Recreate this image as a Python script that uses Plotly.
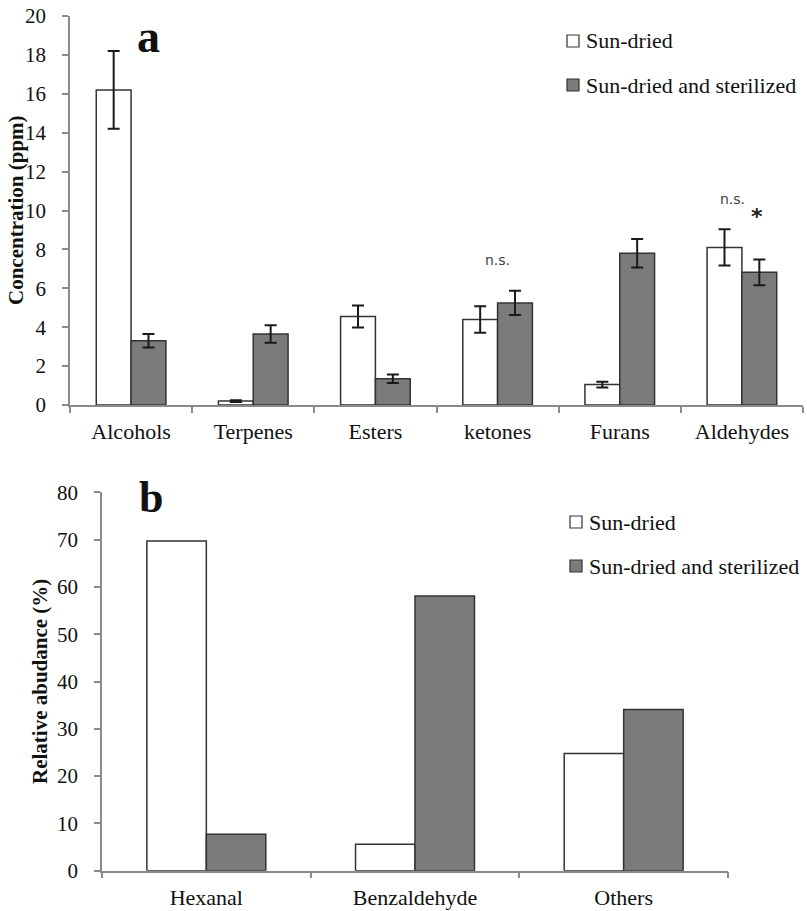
import plotly.graph_objects as go

# ---- data: panel a ----
cats_a = ["Alcohols", "Terpenes", "Esters", "ketones", "Furans", "Aldehydes"]
sun_a = [16.2, 0.2, 4.55, 4.4, 1.05, 8.1]
sun_a_err = [2.0, 0.05, 0.57, 0.68, 0.15, 0.93]
ster_a = [3.3, 3.65, 1.35, 5.25, 7.8, 6.82]
ster_a_err = [0.35, 0.45, 0.22, 0.62, 0.73, 0.66]
yticks_a = [0, 2, 4, 6, 8, 10, 12, 14, 16, 18, 20]

# ---- data: panel b ----
cats_b = ["Hexanal", "Benzaldehyde", "Others"]
sun_b = [69.7, 5.6, 24.8]
ster_b = [7.7, 58.1, 34.1]
yticks_b = [0, 10, 20, 30, 40, 50, 60, 70, 80]

series_names = ["Sun-dried", "Sun-dried and sterilized"]

W, H = 807, 911
SERIF = "Liberation Serif"
WHITE = "#ffffff"
GRAY = "#7b7b7b"
EDGE = "#333333"
AXC = "#8a8a8a"

def px_x(px):
    return px / W

def px_y(py):
    return 1 - py / H

fig = go.Figure()

err_style = dict(type="data", color="#1a1a1a", thickness=2, width=6, visible=True)

fig.add_trace(go.Bar(x=cats_a, y=sun_a, name=series_names[0],
                     marker=dict(color=WHITE, line=dict(color=EDGE, width=1.5)),
                     error_y=dict(array=sun_a_err, **err_style),
                     xaxis="x", yaxis="y", showlegend=False))
fig.add_trace(go.Bar(x=cats_a, y=ster_a, name=series_names[1],
                     marker=dict(color=GRAY, line=dict(color=EDGE, width=1.5)),
                     error_y=dict(array=ster_a_err, **err_style),
                     xaxis="x", yaxis="y", showlegend=False))
fig.add_trace(go.Bar(x=cats_b, y=sun_b, name=series_names[0],
                     marker=dict(color=WHITE, line=dict(color=EDGE, width=1.5)),
                     xaxis="x2", yaxis="y2", showlegend=False))
fig.add_trace(go.Bar(x=cats_b, y=ster_b, name=series_names[1],
                     marker=dict(color=GRAY, line=dict(color=EDGE, width=1.5)),
                     xaxis="x2", yaxis="y2", showlegend=False))

xax_common = dict(type="category", showline=True, linecolor=AXC, linewidth=1.5,
                  ticks="outside", tickson="boundaries", ticklen=6, tickcolor=AXC,
                  tickwidth=1.5, showgrid=False, zeroline=False,
                  tickfont=dict(family=SERIF, size=22, color="#111"),
                  ticklabelstandoff=6, fixedrange=True)
yax_common = dict(showline=True, linecolor=AXC, linewidth=1.5, ticks="outside",
                  ticklen=6, tickcolor=AXC, tickwidth=1.5, showgrid=False,
                  zeroline=False, tickfont=dict(family=SERIF, size=21, color="#111"),
                  ticklabelstandoff=12, fixedrange=True)

fig.update_layout(
    width=W, height=H,
    margin=dict(l=0, r=0, t=0, b=0, autoexpand=False),
    font=dict(family=SERIF),
    paper_bgcolor="white", plot_bgcolor="white",
    barmode="group", bargap=0.43, bargroupgap=0,
    xaxis=dict(domain=[px_x(70), px_x(803)], anchor="y", **xax_common),
    yaxis=dict(domain=[px_y(405), px_y(16)], range=[0, 20], tickvals=yticks_a,
               anchor="x", **yax_common),
    xaxis2=dict(domain=[px_x(102), px_x(728)], anchor="y2", **xax_common),
    yaxis2=dict(domain=[px_y(870.7), px_y(492.3)], range=[0, 80], tickvals=yticks_b,
                anchor="x2", **yax_common),
    showlegend=False,
)

ann = []
# axis titles
ann.append(dict(text="<b>Concentration (ppm)</b>", x=px_x(16), y=px_y(210),
                xref="paper", yref="paper", xanchor="center", yanchor="middle",
                textangle=-90, showarrow=False,
                font=dict(family=SERIF, size=21, color="#111")))
ann.append(dict(text="<b>Relative abudance (%)</b>", x=px_x(40), y=px_y(682),
                xref="paper", yref="paper", xanchor="center", yanchor="middle",
                textangle=-90, showarrow=False,
                font=dict(family=SERIF, size=21, color="#111")))
# panel letters
ann.append(dict(text="<b>a</b>", x=px_x(148), y=px_y(36), xref="paper", yref="paper",
                xanchor="center", yanchor="middle",
                showarrow=False, font=dict(family=SERIF, size=46, color="#111")))
ann.append(dict(text="<b>b</b>", x=px_x(151), y=px_y(497), xref="paper", yref="paper",
                xanchor="center", yanchor="middle",
                showarrow=False, font=dict(family=SERIF, size=44, color="#111")))
# significance marks
ann.append(dict(text="n.s.", x="ketones", y=7.46, xref="x", yref="y", showarrow=False,
                font=dict(family="DejaVu Sans", size=14, color="#444")))
ann.append(dict(text="n.s.", x="Aldehydes", y=10.6, xref="x", yref="y", showarrow=False,
                xshift=-9, font=dict(family="DejaVu Sans", size=14, color="#444")))
ann.append(dict(text="<b>*</b>", x="Aldehydes", y=9.7, xref="x", yref="y", showarrow=False,
                xshift=15, font=dict(family="DejaVu Sans", size=22, color="#222")))

shapes = []
# manual legends
legends = [
    (567, 41, 85, 584),   # panel a: square left x, y1, y2, text x
    (570, 522, 566, 587), # panel b
]
for sx, y1, y2, tx in legends:
    for yy, col, name in [(y1, WHITE, series_names[0]), (y2, GRAY, series_names[1])]:
        shapes.append(dict(type="rect", xref="paper", yref="paper",
                           x0=px_x(sx), x1=px_x(sx + 12), y0=px_y(yy + 6), y1=px_y(yy - 6),
                           fillcolor=col, line=dict(color=EDGE, width=1.2)))
        ann.append(dict(text=name, x=px_x(tx), y=px_y(yy), xref="paper", yref="paper",
                        xanchor="left", yanchor="middle", showarrow=False,
                        font=dict(family=SERIF, size=22, color="#111")))

fig.update_layout(annotations=ann, shapes=shapes)
fig.write_html("out.html", config={"displayModeBar": False},
               post_script="document.body.style.margin='0';document.body.style.padding='0';document.body.style.overflow='hidden';")
